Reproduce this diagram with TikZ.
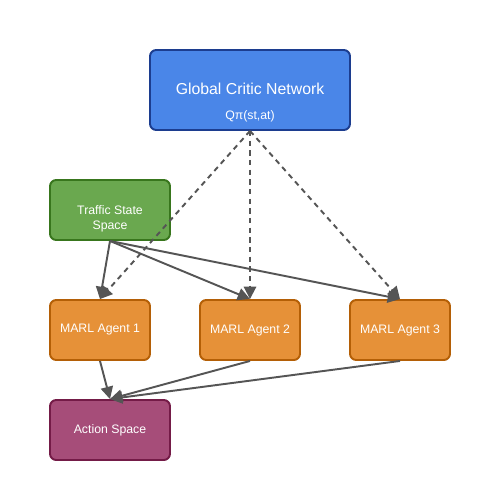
\documentclass[tikz,border=0pt]{standalone}
\usepackage{fontspec}
\setmainfont{Liberation Sans}
\usepackage{tikz}
\usetikzlibrary{arrows.meta}
\definecolor{criticfill}{HTML}{4A86E8}
\definecolor{criticline}{HTML}{1C3D8F}
\definecolor{statefill}{HTML}{6AA84F}
\definecolor{stateline}{HTML}{38761D}
\definecolor{agentfill}{HTML}{E69138}
\definecolor{agentline}{HTML}{B45F06}
\definecolor{actfill}{HTML}{A64D79}
\definecolor{actline}{HTML}{741B47}
\definecolor{flow}{HTML}{555555}
\tikzset{>/.tip={Triangle[length=7pt,width=7pt]},
  box/.style={draw, line width=1.1pt, rounded corners=3.5pt, inner sep=0pt, text=white, font=\fontsize{7}{8.5}\selectfont, align=center}}

\begin{document}
\begin{tikzpicture}[x=0.02cm,y=-0.02cm]
\useasboundingbox (0,0) rectangle (500,500);
\node[box, fill=criticfill, draw=criticline, minimum width=4cm, minimum height=1.6cm] (critic) at (250,90) {};
\node[text=white, font=\fontsize{9}{11}\selectfont] (critic-title) at (250,89) {Global Critic Network};
\node[text=white, font=\fontsize{7}{8.5}\selectfont] (critic-q) at (250,116) {Qπ(st,at)};

\node[box, fill=statefill, draw=stateline, minimum width=2.4cm, minimum height=1.2cm] (state) at (110,210) {};
\node[text=white, font=\fontsize{7}{8.5}\selectfont, align=center] (state-text) at (110,218.5) {Traffic State\\Space};

\node[box, fill=agentfill, draw=agentline, minimum width=2cm, minimum height=1.2cm] (agent-1) at (100,330) {MARL Agent 1};
\node[box, fill=agentfill, draw=agentline, minimum width=2cm, minimum height=1.2cm] (agent-2) at (250,330) {MARL Agent 2};
\node[box, fill=agentfill, draw=agentline, minimum width=2cm, minimum height=1.2cm] (agent-3) at (400,330) {MARL Agent 3};

\node[box, fill=actfill, draw=actline, minimum width=2.4cm, minimum height=1.2cm] (action) at (110,430) {Action Space};

\draw[->, flow, line width=1.1pt, dash pattern=on 3pt off 2.5pt] (critic.south) -- (agent-1.north);
\draw[->, flow, line width=1.1pt, dash pattern=on 3pt off 2.5pt] (critic.south) -- (agent-2.north);
\draw[->, flow, line width=1.1pt, dash pattern=on 3pt off 2.5pt] (critic.south) -- (agent-3.north);

\draw[->, flow, line width=1.1pt] (state.south) -- (agent-1.north);
\draw[->, flow, line width=1.1pt] (state.south) -- (agent-2.north);
\draw[->, flow, line width=1.1pt] (state.south) -- (agent-3.north);

\draw[->, flow, line width=1.1pt] (agent-1.south) -- (action.north);
\draw[->, flow, line width=1.1pt] (agent-2.south) -- (action.north);
\draw[->, flow, line width=1.1pt] (agent-3.south) -- (action.north);
\end{tikzpicture}
\end{document}
